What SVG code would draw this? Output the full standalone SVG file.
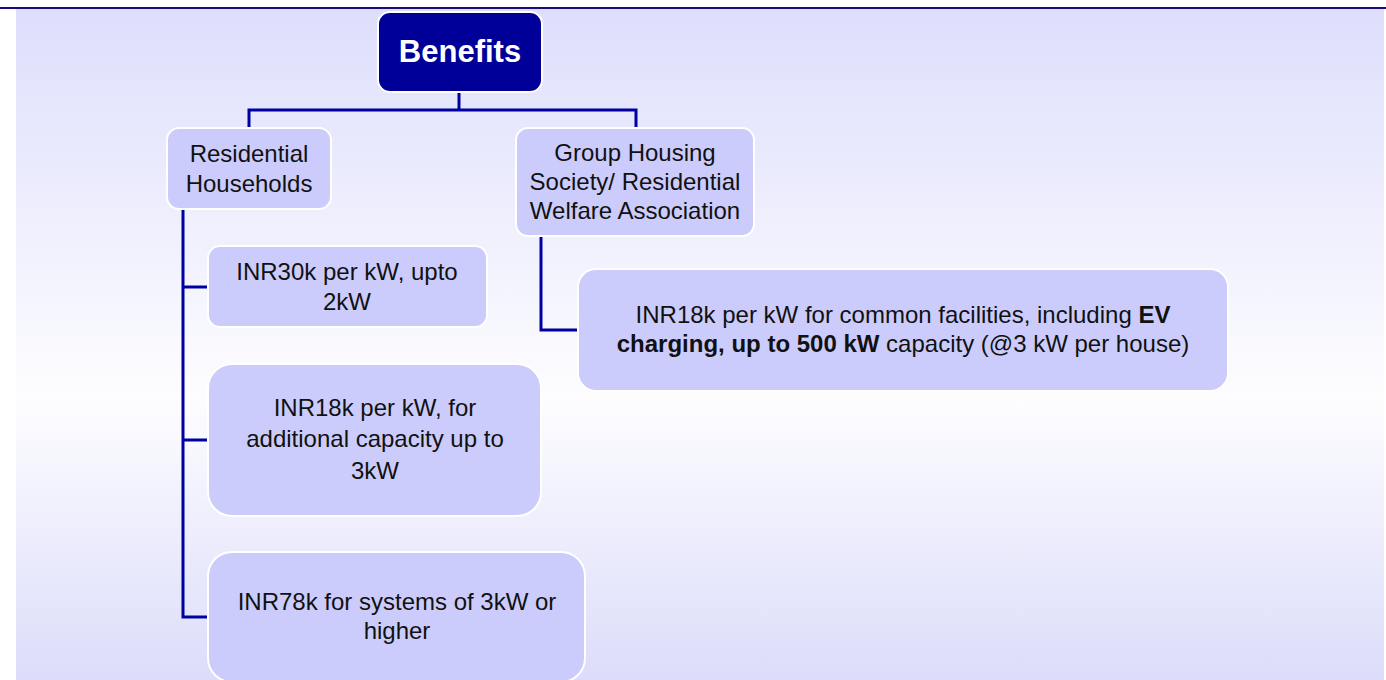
<svg xmlns="http://www.w3.org/2000/svg" width="1386" height="680" viewBox="0 0 1386 680">
<defs>
<linearGradient id="bg" x1="0" y1="0" x2="0" y2="1">
<stop offset="0" stop-color="#dedefc"/>
<stop offset="0.58" stop-color="#fdfdff"/>
<stop offset="1" stop-color="#dcdcfa"/>
</linearGradient>
</defs>
<style>
.box{fill:#ccccfc;stroke:#ffffff;stroke-width:2}
.root{fill:#000099;stroke:#ffffff;stroke-width:2}
.t{font-family:"Liberation Sans",Arial,sans-serif;font-size:24px;fill:#111;text-anchor:middle}
.rt{font-family:"Liberation Sans",Arial,sans-serif;font-size:31px;font-weight:bold;fill:#ffffff;text-anchor:middle}
.c{fill:none;stroke:#0000a0;stroke-width:3}
</style>
<rect x="0" y="0" width="1386" height="680" fill="#ffffff"/>
<rect x="16" y="9" width="1368" height="671" fill="url(#bg)"/>
<line x1="0" y1="8" x2="1386" y2="8" stroke="#1a0a80" stroke-width="2"/>
<g id="connectors">
<polyline class="c" points="459,93 459,110"/>
<polyline class="c" points="249,128 249,110 636,110 636,128"/>
<polyline class="c" points="183,209 183,617 208,617"/>
<polyline class="c" points="183,287 208,287"/>
<polyline class="c" points="183,440 208,440"/>
<polyline class="c" points="541,237 541,330 578,330"/>
</g>
<g id="benefits">
<rect class="root" x="378" y="12" width="164" height="80" rx="12"/>
<text class="rt" x="460" y="62">Benefits</text>
</g>
<g id="residential">
<rect class="box" x="167" y="128" width="164" height="81" rx="12"/>
<text class="t" x="249" y="162">Residential</text>
<text class="t" x="249" y="192">Households</text>
</g>
<g id="group-housing">
<rect class="box" x="516" y="128" width="238" height="108" rx="12"/>
<text class="t" x="635" y="161">Group Housing</text>
<text class="t" x="635" y="190">Society/ Residential</text>
<text class="t" x="635" y="219">Welfare Association</text>
</g>
<g id="inr30k">
<rect class="box" x="208" y="246" width="279" height="81" rx="12"/>
<text class="t" x="347" y="280">INR30k per kW, upto</text>
<text class="t" x="347" y="310">2kW</text>
</g>
<g id="inr18k-additional">
<rect class="box" x="208" y="364" width="333" height="152" rx="24"/>
<text class="t" x="375" y="416">INR18k per kW, for</text>
<text class="t" x="375" y="447">additional capacity up to</text>
<text class="t" x="375" y="479">3kW</text>
</g>
<g id="inr78k">
<rect class="box" x="208" y="552" width="377" height="130" rx="24"/>
<text class="t" x="397" y="610">INR78k for systems of 3kW or</text>
<text class="t" x="397" y="639">higher</text>
</g>
<g id="inr18k-common">
<rect class="box" x="578" y="269" width="650" height="122" rx="18"/>
<text class="t" x="903" y="323">INR18k per kW for common facilities, including <tspan font-weight="bold">EV</tspan></text>
<text class="t" x="903" y="352"><tspan font-weight="bold">charging, up to 500 kW</tspan> capacity (@3 kW per house)</text>
</g>
</svg>
